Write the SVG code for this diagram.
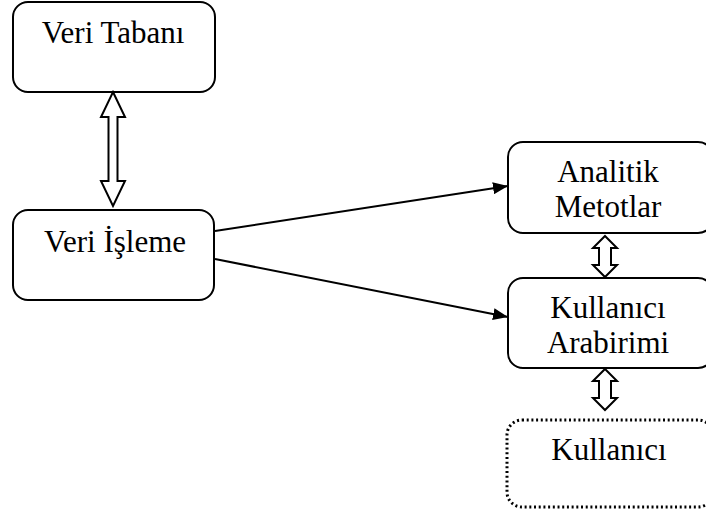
<svg xmlns="http://www.w3.org/2000/svg" width="706" height="517" viewBox="0 0 706 517">
  <style>
    .box { fill: #fff; stroke: #000; stroke-width: 2; }
    .dotted { fill: #fff; stroke: #000; stroke-width: 3; stroke-dasharray: 2 2.7; stroke-linecap: butt; }
    .lbl { font-family: "Liberation Serif", "Times New Roman", serif; font-size: 31px; fill: #000; text-anchor: middle; }
    .dbl { fill: #fff; stroke: #000; stroke-width: 2; stroke-linejoin: miter; }
    .conn { stroke: #000; stroke-width: 2; fill: none; }
  </style>
  <defs>
    <marker id="arrow" viewBox="0 0 15 12" refX="15" refY="6" markerWidth="15" markerHeight="12" markerUnits="userSpaceOnUse" orient="auto">
      <path d="M0,0 L15,6 L0,12 Z" fill="#000"/>
    </marker>
  </defs>

  <rect width="706" height="517" fill="#fff"/>

  <g id="veri-tabani">
    <rect class="box" x="13" y="2" width="202" height="90" rx="15"/>
    <text class="lbl" x="113" y="43">Veri Tabanı</text>
  </g>

  <g id="veri-isleme">
    <rect class="box" x="13" y="210" width="201" height="90" rx="15"/>
    <text class="lbl" x="115" y="252">Veri İşleme</text>
  </g>

  <g id="analitik-metotlar">
    <rect class="box" x="508" y="142" width="205" height="91" rx="15"/>
    <text class="lbl" x="608" y="182">Analitik</text>
    <text class="lbl" x="608" y="217">Metotlar</text>
  </g>

  <g id="kullanici-arabirimi">
    <rect class="box" x="508" y="278" width="205" height="90" rx="15"/>
    <text class="lbl" x="608" y="318">Kullanıcı</text>
    <text class="lbl" x="608" y="353">Arabirimi</text>
  </g>

  <g id="kullanici">
    <rect class="dotted" x="507" y="420" width="206" height="87" rx="15"/>
    <text class="lbl" x="609" y="460">Kullanıcı</text>
  </g>

  <g id="connectors">
    <!-- two-way block arrow: Veri Tabanı <-> Veri İşleme -->
    <path class="dbl" d="M113,92 L125,117 L117.5,117 L117.5,181 L125,181 L113,206 L101,181 L108.5,181 L108.5,117 L101,117 Z"/>
    <!-- two-way block arrow: Analitik Metotlar <-> Kullanıcı Arabirimi -->
    <path class="dbl" d="M605,236 L617,248 L611,248 L611,265 L617,265 L605,277 L593,265 L599,265 L599,248 L593,248 Z"/>
    <!-- two-way block arrow: Kullanıcı Arabirimi <-> Kullanıcı -->
    <path class="dbl" d="M605,369 L617,381 L611,381 L611,398 L617,398 L605,410 L593,398 L599,398 L599,381 L593,381 Z"/>
    <!-- flow lines out of Veri İşleme -->
    <line class="conn" x1="215" y1="231" x2="508" y2="186" marker-end="url(#arrow)"/>
    <line class="conn" x1="215" y1="259" x2="508" y2="317" marker-end="url(#arrow)"/>
  </g>
</svg>
